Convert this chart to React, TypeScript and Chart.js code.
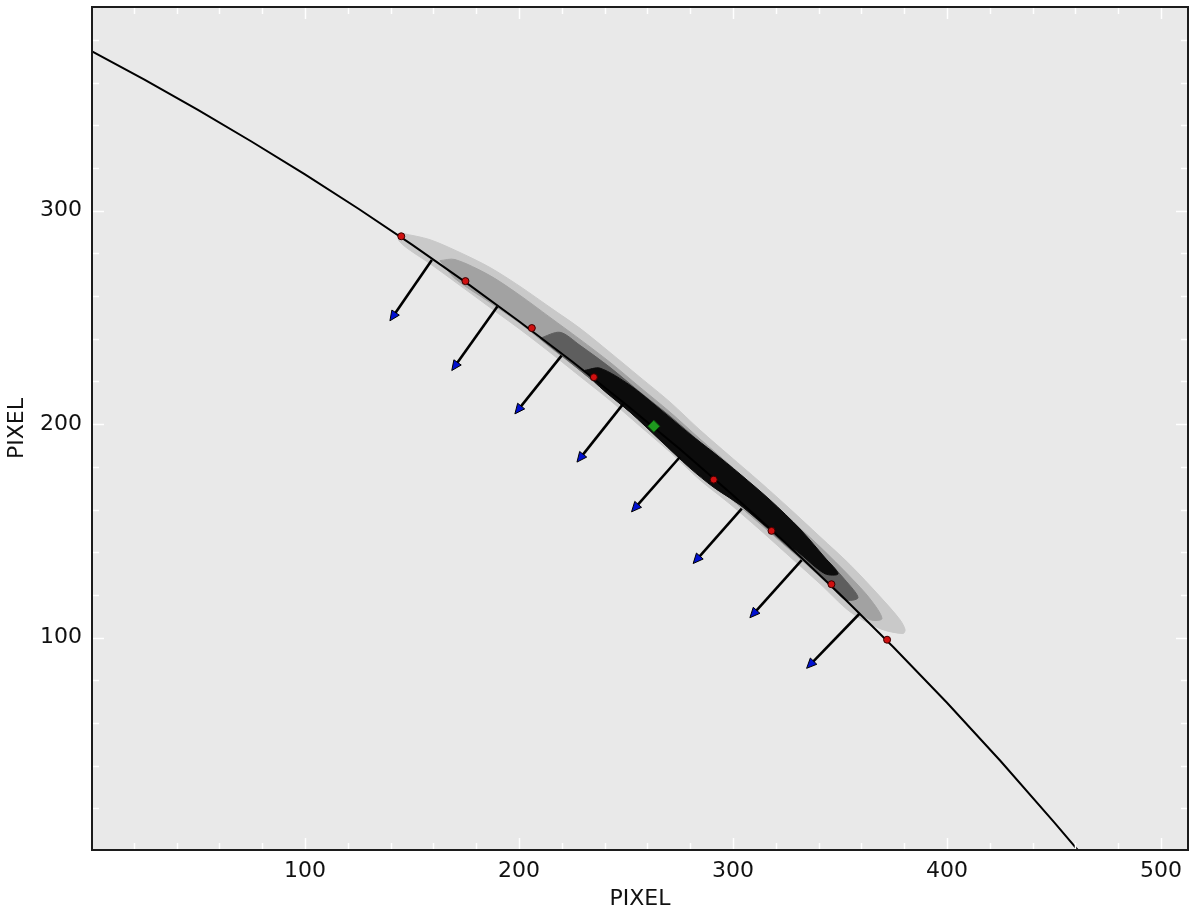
import { useEffect, useRef } from "react";
import { Chart, registerables } from "chart.js";

Chart.register(...registerables);

// ---- axis ticks ----
const xTickValues = [100, 200, 300, 400, 500];
const yTickValues = [100, 200, 300];
const xMinorTicks = [20, 40, 60, 80, 100, 120, 140, 160, 180, 200, 220, 240, 260, 280, 300, 320, 340, 360, 380, 400, 420, 440, 460, 480, 500];
const yMinorTicks = [20, 40, 60, 80, 100, 120, 140, 160, 180, 200, 220, 240, 260, 280, 300, 320, 340, 360, 380];

// ---- fitted limb curve ----
const curveX = [0.5, 25, 50, 75, 100, 125, 150, 175, 200, 225, 250, 275, 300, 325, 350, 375, 400, 425, 450, 461.5];
const curveY = [374.6, 361.4, 347.2, 332.4, 317.0, 300.9, 284.1, 266.5, 248.2, 229.2, 209.2, 188.5, 166.7, 144.0, 120.3, 95.5, 69.5, 42.2, 13.6, 0.0];

// ---- red sample points on the curve ----
const dotX = [145, 175, 206, 235, 291, 318, 346, 372];
const dotY = [288, 267, 245, 222, 174, 150, 125, 99];

// ---- green centre marker ----
const centreX = [263];
const centreY = [199];

// ---- arrows (start on curve -> tip) ----
const arrowFromX = [159.3, 189.9, 219.9, 248.7, 275.2, 304.1, 332.1, 359.3];
const arrowFromY = [276.9, 255.1, 232.1, 209.5, 184.6, 160.4, 136.3, 111.4];
const arrowToX = [139.7, 168.6, 198.1, 227.1, 252.6, 281.4, 307.9, 334.4];
const arrowToY = [248.4, 225.1, 204.8, 182.2, 158.9, 134.7, 109.3, 85.6];

// ---- density band outlines (outer -> core) ----
const bandOuterX = [145.8, 158.4, 172.4, 186.4, 200.5, 214.5, 228.5, 242.5, 256.5, 270.6, 284.6, 298.6, 312.6, 326.6, 340.7, 354.7, 368.7, 378.0, 380.4,
  379.4, 368.7, 354.7, 340.7, 326.6, 312.6, 298.6, 284.6, 270.6, 256.5, 242.5, 228.5, 214.5, 200.5, 186.4, 172.4, 158.4, 146.7, 143.5];
const bandOuterY = [289.3, 286.4, 280.4, 273.4, 264.5, 254.7, 244.9, 233.6, 222.0, 210.3, 197.2, 185.0, 172.9, 160.3, 147.2, 134.1, 119.2, 108.4, 103.7,
  101.9, 104.2, 112.1, 125.2, 137.9, 150.5, 162.6, 173.8, 186.9, 199.1, 211.2, 222.4, 233.6, 244.4, 254.7, 265.0, 275.2, 283.2, 286.9];

const bandMidX = [163.1, 170.1, 186.4, 200.5, 214.5, 228.5, 242.5, 256.5, 270.6, 284.6, 298.6, 312.6, 326.6, 340.7, 354.7, 364.0, 369.6,
  364.0, 354.7, 340.7, 326.6, 312.6, 298.6, 284.6, 270.6, 256.5, 242.5, 228.5, 214.5, 200.5, 186.4, 170.1];
const bandMidY = [276.6, 277.1, 269.6, 260.3, 250.0, 239.7, 229.0, 217.3, 205.6, 193.0, 180.8, 168.2, 155.6, 142.5, 128.5, 118.2, 108.9,
  108.4, 115.4, 128.5, 141.1, 153.3, 165.4, 177.6, 189.7, 201.9, 213.6, 225.2, 236.0, 247.2, 257.0, 268.2];

const bandInnerX = [209.8, 219.2, 228.5, 242.5, 256.5, 270.6, 284.6, 298.6, 312.6, 326.6, 340.7, 352.3, 358.4,
  352.3, 340.7, 326.6, 312.6, 298.6, 284.6, 270.6, 256.5, 242.5, 228.5, 219.2];
const bandInnerY = [240.2, 243.0, 236.9, 226.6, 215.0, 203.7, 191.6, 179.4, 166.4, 153.3, 139.7, 127.1, 118.7,
  117.8, 129.4, 141.6, 154.2, 166.4, 178.5, 190.2, 201.9, 213.6, 225.2, 232.7];

const bandCoreX = [230.8, 237.9, 251.9, 265.9, 279.9, 290.7, 303.3, 317.3, 331.3, 343.0, 349.1,
  343.0, 331.3, 317.3, 303.3, 290.7, 279.9, 265.9, 251.9, 237.9];
const bandCoreY = [225.2, 226.2, 218.2, 207.0, 195.3, 186.9, 176.6, 164.5, 150.9, 137.4, 129.9,
  129.9, 139.3, 150.5, 162.1, 170.6, 179.4, 192.5, 205.6, 217.3];

const FONT = "'DejaVu Sans', 'Liberation Sans', sans-serif";

function toPoints(xs: number[], ys: number[]) {
  return xs.map((x, i) => ({ x, y: ys[i] }));
}
function closedPoints(xs: number[], ys: number[]) {
  const p = toPoints(xs, ys);
  p.push({ ...p[0] });
  return p;
}

export default function App() {
  const ref = useRef<HTMLCanvasElement>(null);

  useEffect(() => {
    if (!ref.current) return;

    const bandDs = (xs: number[], ys: number[], color: string) => ({
      data: closedPoints(xs, ys),
      borderWidth: 1,
      borderColor: color,
      backgroundColor: color,
      fill: "shape" as any,
      pointRadius: 0,
      pointHoverRadius: 0,
      tension: 0.3,
    });

    const decor = {
      id: "decor",
      beforeDraw(chart: any) {
        const { ctx, chartArea: a } = chart;
        ctx.save();
        ctx.fillStyle = "#e9e9e9";
        ctx.fillRect(a.left, a.top, a.right - a.left, a.bottom - a.top);
        ctx.restore();
      },
      afterDatasetsDraw(chart: any) {
        const { ctx } = chart;
        const xs = chart.scales.x;
        const ys = chart.scales.y;
        ctx.save();
        for (let i = 0; i < arrowFromX.length; i++) {
          const x0 = xs.getPixelForValue(arrowFromX[i]);
          const y0 = ys.getPixelForValue(arrowFromY[i]);
          const x1 = xs.getPixelForValue(arrowToX[i]);
          const y1 = ys.getPixelForValue(arrowToY[i]);
          const dx = x1 - x0;
          const dy = y1 - y0;
          const len = Math.hypot(dx, dy);
          const ux = dx / len;
          const uy = dy / len;
          const headLen = 10;
          const headW = 4.5;
          const bx = x1 - ux * headLen;
          const by = y1 - uy * headLen;
          ctx.strokeStyle = "#000";
          ctx.lineWidth = 2.6;
          ctx.lineCap = "butt";
          ctx.beginPath();
          ctx.moveTo(x0, y0);
          ctx.lineTo(bx + ux * 2, by + uy * 2);
          ctx.stroke();
          ctx.beginPath();
          ctx.moveTo(x1, y1);
          ctx.lineTo(bx - uy * headW, by + ux * headW);
          ctx.lineTo(bx + uy * headW, by - ux * headW);
          ctx.closePath();
          ctx.fillStyle = "#0010d0";
          ctx.fill();
          ctx.lineWidth = 1;
          ctx.strokeStyle = "#000";
          ctx.stroke();
        }
        ctx.restore();
      },
      afterDraw(chart: any) {
        const { ctx, chartArea: a } = chart;
        const xs = chart.scales.x;
        const ys = chart.scales.y;
        ctx.save();
        ctx.strokeStyle = "#ffffff";
        ctx.lineWidth = 1.5;
        for (const v of xMinorTicks) {
          const p = Math.round(xs.getPixelForValue(v)) + 0.5;
          const l = xTickValues.includes(v) ? 12 : 7;
          ctx.beginPath();
          ctx.moveTo(p, a.bottom);
          ctx.lineTo(p, a.bottom - l);
          ctx.moveTo(p, a.top);
          ctx.lineTo(p, a.top + l);
          ctx.stroke();
        }
        for (const v of yMinorTicks) {
          const p = Math.round(ys.getPixelForValue(v)) + 0.5;
          const l = yTickValues.includes(v) ? 12 : 7;
          ctx.beginPath();
          ctx.moveTo(a.left, p);
          ctx.lineTo(a.left + l, p);
          ctx.moveTo(a.right, p);
          ctx.lineTo(a.right - l, p);
          ctx.stroke();
        }
        ctx.strokeStyle = "#1c1c1c";
        ctx.lineWidth = 2;
        ctx.strokeRect(a.left, a.top, a.right - a.left, a.bottom - a.top);
        ctx.restore();
      },
    };

    const chart = new Chart(ref.current, {
      type: "line",
      data: {
        datasets: [
          {
            label: "centre",
            data: toPoints(centreX, centreY),
            showLine: false,
            pointStyle: "rectRot",
            pointRadius: 6,
            pointBackgroundColor: "#1f9a1f",
            pointBorderColor: "#0b4f0b",
            pointBorderWidth: 1,
          } as any,
          {
            label: "samples",
            data: toPoints(dotX, dotY),
            showLine: false,
            pointStyle: "circle",
            pointRadius: 3.5,
            pointBackgroundColor: "#d01010",
            pointBorderColor: "#3a0000",
            pointBorderWidth: 1,
          },
          {
            label: "limb",
            data: toPoints(curveX, curveY),
            borderColor: "#000000",
            borderWidth: 2,
            pointRadius: 0,
            fill: false,
            tension: 0,
          },
          bandDs(bandCoreX, bandCoreY, "#0c0c0c"),
          bandDs(bandInnerX, bandInnerY, "#5e5e5e"),
          bandDs(bandMidX, bandMidY, "#a2a2a2"),
          bandDs(bandOuterX, bandOuterY, "#c9c9c9"),
        ],
      },
      options: {
        animation: false,
        responsive: false,
        maintainAspectRatio: false,
        events: [],
        layout: { padding: { top: 5, right: 12, left: 0, bottom: 0 } },
        plugins: {
          legend: { display: false },
          tooltip: { enabled: false },
        },
        scales: {
          x: {
            type: "linear",
            min: 0.5,
            max: 512.6,
            position: "bottom",
            afterBuildTicks: (s: any) => {
              s.ticks = xTickValues.map((v) => ({ value: v }));
            },
            afterFit: (s: any) => {
              s.height = 67;
              s.paddingLeft = 0;
              s.paddingRight = 0;
            },
            grid: { display: false, drawTicks: false },
            border: { display: false },
            ticks: {
              font: { family: FONT, size: 22 },
              color: "#111",
              padding: 8,
              maxRotation: 0,
              autoSkip: false,
            },
            title: {
              display: true,
              text: "PIXEL",
              font: { family: FONT, size: 22 },
              color: "#111",
              padding: { top: 0, bottom: 5 },
            },
          },
          y: {
            type: "linear",
            min: 0.5,
            max: 395.4,
            afterBuildTicks: (s: any) => {
              s.ticks = yTickValues.map((v) => ({ value: v }));
            },
            afterFit: (s: any) => {
              s.width = 92;
              s.paddingTop = 0;
              s.paddingBottom = 0;
            },
            grid: { display: false, drawTicks: false },
            border: { display: false },
            ticks: {
              font: { family: FONT, size: 22 },
              color: "#111",
              padding: 10,
              autoSkip: false,
            },
            title: {
              display: true,
              text: "PIXEL",
              font: { family: FONT, size: 22 },
              color: "#111",
              padding: { top: 4, bottom: 0 },
            },
          },
        },
      },
      plugins: [decor],
    });

    return () => chart.destroy();
  }, []);

  return (
    <div style={{ position: "fixed", left: 0, top: 0, width: 1200, height: 917, background: "#fff" }}>
      <canvas ref={ref} width={1200} height={917} style={{ display: "block" }} />
    </div>
  );
}
